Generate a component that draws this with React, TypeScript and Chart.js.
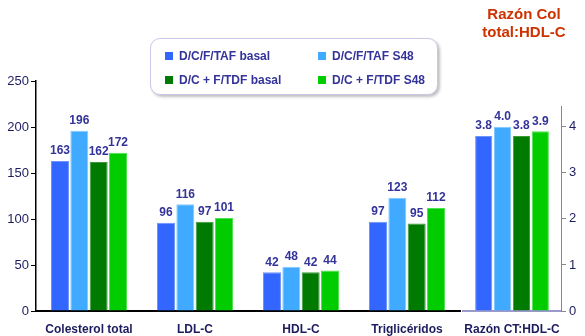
import React, { useEffect, useRef } from "react";
import { Chart, registerables } from "chart.js";

Chart.register(...registerables);

const categories = ["Colesterol total", "LDL-C", "HDL-C", "Triglicéridos"];
const ratioCategory = ["Razón CT:HDL-C"];
const seriesNames = ["D/C/F/TAF basal", "D/C/F/TAF S48", "D/C + F/TDF basal", "D/C + F/TDF S48"];
const seriesColors = ["#3366FF", "#3FAAFF", "#007A00", "#00CC00"];
const seriesBorders = ["#6F93FF", "#80C8FF", "#3C9A3C", "#50E050"];

const tafBasal = [163, 96, 42, 97];
const tafS48 = [196, 116, 48, 123];
const tdfBasal = [162, 97, 42, 95];
const tdfS48 = [172, 101, 44, 112];

const ratioValues = [3.8, 4.0, 3.8, 3.9];
const ratioTitle = ["Razón Col", "total:HDL-C"];

const leftMax = 250;
const leftStep = 50;
const rightMax = 4.45;
const rightStep = 1;

const FONT = "'Liberation Sans', Arial, sans-serif";
const NAVY = "#1C1C5E";
const LABEL = "#333399";

Chart.defaults.font.family = FONT;

const valueLabels = {
  id: "valueLabels",
  afterDatasetsDraw(chart: any, _args: any, opts: any) {
    const ctx = chart.ctx;
    ctx.save();
    ctx.font = "bold 12px " + FONT;
    ctx.fillStyle = LABEL;
    ctx.textAlign = "center";
    ctx.textBaseline = "bottom";
    chart.data.datasets.forEach((ds: any, i: number) => {
      const meta = chart.getDatasetMeta(i);
      meta.data.forEach((bar: any, j: number) => {
        const v = ds.data[j];
        const txt = opts && opts.decimals ? Number(v).toFixed(opts.decimals) : String(v);
        ctx.fillText(txt, bar.x, bar.y - 4);
      });
    });
    ctx.restore();
  },
};

export default function App() {
  const leftRef = useRef<HTMLCanvasElement>(null);
  const rightRef = useRef<HTMLCanvasElement>(null);

  useEffect(() => {
    const leftSeries = [tafBasal, tafS48, tdfBasal, tdfS48];
    const left = new Chart(leftRef.current!, {
      type: "bar",
      data: {
        labels: categories,
        datasets: leftSeries.map((d, i) => ({
          label: seriesNames[i],
          data: d,
          backgroundColor: seriesColors[i],
          borderColor: seriesBorders[i],
          borderWidth: 1,
          categoryPercentage: 0.73,
          barPercentage: 0.93,
        })),
      },
      options: {
        responsive: false,
        animation: false,
        layout: { padding: { top: 81, right: 5, left: 0, bottom: 0 } },
        plugins: {
          legend: { display: false },
          tooltip: { enabled: false },
          valueLabels: { decimals: 0 },
        } as any,
        scales: {
          x: {
            grid: { display: false },
            border: { color: "#000", width: 2 },
            ticks: { color: NAVY, font: { size: 12, weight: "bold" }, padding: 3 },
            afterFit: (s: any) => {
              s.height = 25;
            },
          },
          y: {
            min: 0,
            max: leftMax,
            ticks: { stepSize: leftStep, color: NAVY, font: { size: 13 }, padding: 2 },
            grid: { drawOnChartArea: false, color: "#000", tickLength: 5 },
            border: { color: "#000", width: 1.5 },
            afterFit: (s: any) => {
              s.width = 36;
            },
          },
        },
      },
      plugins: [valueLabels],
    } as any);

    const right = new Chart(rightRef.current!, {
      type: "bar",
      data: {
        labels: ratioCategory,
        datasets: ratioValues.map((v, i) => ({
          label: seriesNames[i],
          data: [v],
          backgroundColor: seriesColors[i],
          borderColor: seriesBorders[i],
          borderWidth: 1,
          categoryPercentage: 0.77,
          barPercentage: 0.91,
        })),
      },
      options: {
        responsive: false,
        animation: false,
        layout: { padding: { top: 0, right: 0, left: 8, bottom: 0 } },
        plugins: {
          legend: { display: false },
          tooltip: { enabled: false },
          title: {
            display: true,
            text: ratioTitle,
            color: "#CC3300",
            font: { size: 15, weight: "bold" },
            padding: { top: 6, bottom: 64 },
          },
          valueLabels: { decimals: 1 },
        } as any,
        scales: {
          x: {
            grid: { display: false },
            border: { color: "#9999CC", width: 2 },
            ticks: { color: NAVY, font: { size: 12, weight: "bold" }, padding: 3 },
            afterFit: (s: any) => {
              s.height = 25;
            },
          },
          y: {
            position: "right",
            min: 0,
            max: rightMax,
            afterBuildTicks: (axis: any) => {
              axis.ticks = axis.ticks.filter((t: any) => Number.isInteger(t.value));
            },
            ticks: { stepSize: rightStep, color: NAVY, font: { size: 13 }, padding: 3 },
            grid: { drawOnChartArea: false, color: "#888", tickLength: 5 },
            border: { color: "#888", width: 1 },
            afterFit: (s: any) => {
              s.width = 24;
            },
          },
        },
      },
      plugins: [valueLabels],
    } as any);

    return () => {
      left.destroy();
      right.destroy();
    };
  }, []);

  const legendPos = [
    { x: 14, y: 17 },
    { x: 167, y: 17 },
    { x: 14, y: 41 },
    { x: 167, y: 41 },
  ];
  const legendOrder = [0, 1, 2, 3];

  return (
    <div style={{ position: "absolute", left: 0, top: 0, width: 585, height: 336, background: "#fff", overflow: "hidden" }}>
      <canvas ref={leftRef} width={465} height={336} style={{ position: "absolute", left: 0, top: 0 }} />
      <canvas ref={rightRef} width={130} height={336} style={{ position: "absolute", left: 455, top: 0 }} />
      <div
        style={{
          position: "absolute",
          left: 150,
          top: 38,
          width: 286,
          height: 55,
          border: "1px solid #C8C8E8",
          borderRadius: 10,
          background: "#fff",
          boxShadow: "2px 2px 3px rgba(0,0,0,0.25)",
          fontFamily: FONT,
        }}
      >
        {legendOrder.map((i) => (
          <div key={i}>
            <div
              style={{
                position: "absolute",
                left: legendPos[i].x,
                top: legendPos[i].y - 4,
                width: 8,
                height: 8,
                background: seriesColors[i],
              }}
            />
            <div
              style={{
                position: "absolute",
                left: legendPos[i].x + 14,
                top: legendPos[i].y - 8,
                fontSize: 12,
                lineHeight: "16px",
                fontWeight: "bold",
                color: LABEL,
                whiteSpace: "nowrap",
              }}
            >
              {seriesNames[i]}
            </div>
          </div>
        ))}
      </div>
    </div>
  );
}
